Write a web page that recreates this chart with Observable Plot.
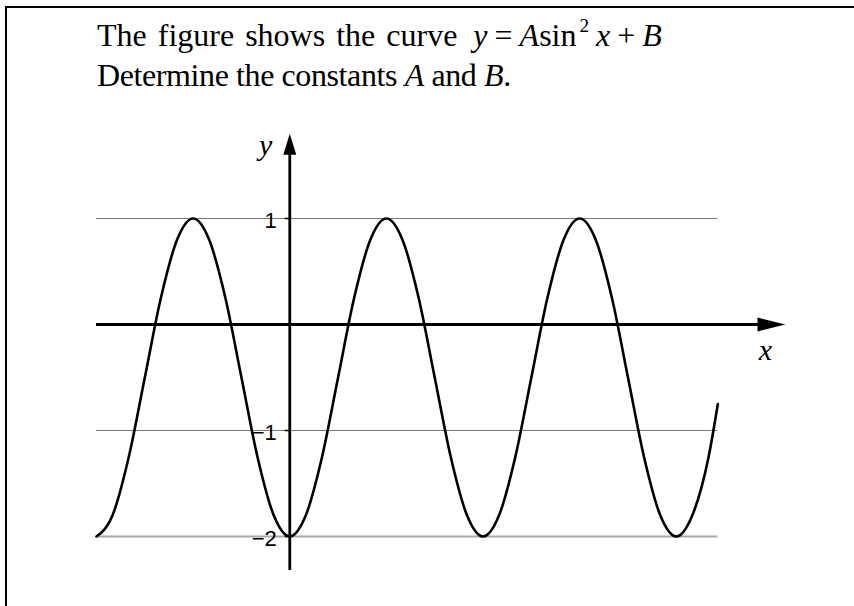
<!DOCTYPE html>
<html><head><meta charset="utf-8">
<script src="https://cdn.jsdelivr.net/npm/d3@7"></script>
<script src="https://cdn.jsdelivr.net/npm/@observablehq/plot@0.6"></script>
<style>
html,body{margin:0;padding:0;background:#fff;overflow:hidden;}
#wrap{position:relative;width:854px;height:606px;overflow:hidden;}
#frame{position:absolute;left:5px;top:6px;width:860px;height:620px;border-top:2.5px solid #000;border-left:2.5px solid #000;}
#title{position:absolute;left:97px;top:0;width:740px;height:110px;font-family:"Liberation Serif","Times New Roman",serif;font-size:32px;line-height:32px;color:#000;white-space:nowrap;}
.ln{position:absolute;left:0;}
.l1{top:19px;}
.l1 .t{word-spacing:3px;}
.l1 .math{margin-left:16px;word-spacing:-1px;}
.l2{top:59px;letter-spacing:-0.4px;}
#title i{font-style:italic;}
#title sup{font-size:0.6em;vertical-align:0.75em;line-height:0;margin-left:3px;}
#chart{position:absolute;left:0;top:110px;}
</style></head>
<body>
<div id="wrap">
  <div id="frame"></div>
  <div id="title">
    <div class="ln l1"><span class="t">The figure shows the curve</span><span class="math"><i>y</i> = <i>A</i>sin<sup>2</sup> <i>x</i> + <i>B</i></span></div>
    <div class="ln l2">Determine the constants <i>A</i> and <i>B</i>.</div>
  </div>
  <div id="chart"></div>
</div>
<script>
// x in units of π
const curveX = [-1, -0.917, -0.833, -0.75, -0.667, -0.583, -0.5, -0.417, -0.333, -0.25, -0.167, -0.083,
  0, 0.083, 0.167, 0.25, 0.333, 0.417, 0.5, 0.583, 0.667, 0.75, 0.833, 0.917,
  1, 1.083, 1.167, 1.25, 1.333, 1.417, 1.5, 1.583, 1.667, 1.75, 1.833, 1.917,
  2, 2.083, 2.167, 2.215];
const curveY = [-2, -1.8, -1.25, -0.5, 0.25, 0.8, 1, 0.8, 0.25, -0.5, -1.25, -1.8,
  -2, -1.8, -1.25, -0.5, 0.25, 0.8, 1, 0.8, 0.25, -0.5, -1.25, -1.8,
  -2, -1.8, -1.25, -0.5, 0.25, 0.8, 1, 0.8, 0.25, -0.5, -1.25, -1.8,
  -2, -1.8, -1.25, -0.75];
const gridDark = [1, -1];
const gridLight = [-2];
const tickValues = [1, -1, -2];
const tickLabels = ["1", "\u22121", "\u22122"];
const xExtent = [-1, 2.215];
const xAxisExtent = [-1, 2.565];
const yAxisExtent = [-2.32, 1.80];
const axisNames = ["x", "y"];

const arrowUp = {draw(ctx) { ctx.moveTo(0, 0); ctx.lineTo(6.5, 21); ctx.lineTo(-6.5, 21); ctx.closePath(); }};
const arrowRight = {draw(ctx) { ctx.moveTo(0, 0); ctx.lineTo(-28, 7); ctx.lineTo(-28, -7); ctx.closePath(); }};
const tickLeft = {draw(ctx) { ctx.moveTo(-5, 0); ctx.lineTo(0, 0); }};

const serif = "Liberation Serif, Times New Roman, serif";

const plot = Plot.plot({
  width: 854,
  height: 496,
  marginLeft: 96,
  marginRight: 178.2,
  marginTop: 108,
  marginBottom: 70,
  x: {domain: [-1, 2], axis: null},
  y: {domain: [-2, 1], axis: null},
  style: {background: "transparent", overflow: "visible", fontFamily: "Liberation Sans, Arial, sans-serif"},
  marks: [
    Plot.ruleY(gridDark, {x1: xExtent[0], x2: xExtent[1], stroke: "#777", strokeWidth: 1.2}),
    Plot.ruleY(gridLight, {x1: xExtent[0], x2: xExtent[1], stroke: "#aaa", strokeWidth: 2}),
    Plot.ruleY([0], {x1: xAxisExtent[0], x2: xAxisExtent[1] - 0.12, stroke: "#000", strokeWidth: 2.8}),
    Plot.dot([0], {x: xAxisExtent[1], y: 0, symbol: arrowRight, r: 5, fill: "#000", stroke: "none"}),
    Plot.ruleX([0], {y1: yAxisExtent[0], y2: yAxisExtent[1] - 0.17, stroke: "#000", strokeWidth: 2.8}),
    Plot.dot([0], {x: 0, y: yAxisExtent[1], symbol: arrowUp, r: 5, fill: "#000", stroke: "none"}),
    Plot.dot(tickValues, {x: 0, y: d => d, symbol: tickLeft, r: 5, fill: "none", stroke: "#000", strokeWidth: 1.5}),
    Plot.text(tickValues, {x: 0, y: d => d, text: (d, i) => tickLabels[i], textAnchor: "end", dx: -13, dy: 2, fontSize: "22px", fill: "#000"}),
    Plot.line(curveX, {x: curveX, y: curveY, curve: "monotone-x", stroke: "#000", strokeWidth: 2.6}),
    Plot.text([axisNames[0]], {x: 2.461, y: -0.245, text: d => d, fontFamily: serif, fontStyle: "italic", fontSize: "30px", fill: "#000"}),
    Plot.text([axisNames[1]], {x: 0, y: 1.69, dx: -24, text: d => d, fontFamily: serif, fontStyle: "italic", fontSize: "30px", fill: "#000"})
  ]
});
document.getElementById("chart").appendChild(plot);
</script>
</body></html>
